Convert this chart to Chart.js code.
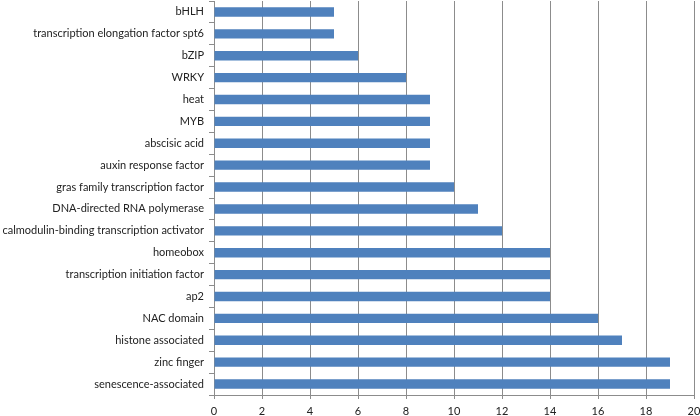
<!DOCTYPE html>
<html>
<head>
<meta charset="utf-8">
<script src="https://cdn.jsdelivr.net/npm/chart.js@4"></script>
<style>
  html, body { margin: 0; padding: 0; background: #fff; }
  #wrap { width: 700px; height: 416px; }
</style>
</head>
<body>
<div id="wrap"><canvas id="bars"></canvas></div>
<script>
const categories = [
  "bHLH",
  "transcription elongation factor spt6",
  "bZIP",
  "WRKY",
  "heat",
  "MYB",
  "abscisic acid",
  "auxin response factor",
  "gras family transcription factor",
  "DNA-directed RNA polymerase",
  "calmodulin-binding transcription activator",
  "homeobox",
  "transcription initiation factor",
  "ap2",
  "NAC domain",
  "histone associated",
  "zinc finger",
  "senescence-associated"
];
const counts = [5, 5, 6, 8, 9, 9, 9, 9, 10, 11, 12, 14, 14, 14, 16, 17, 19, 19];
const xMin = 0, xMax = 20, xStep = 2;

const font = { family: "Lato, 'Liberation Sans', sans-serif", size: 11 };

new Chart(document.getElementById('bars'), {
  type: 'bar',
  data: {
    labels: categories,
    datasets: [{
      data: counts,
      backgroundColor: '#4f81bd',
      borderWidth: 0,
      barPercentage: 0.43,
      categoryPercentage: 1
    }]
  },
  options: {
    indexAxis: 'y',
    responsive: true,
    maintainAspectRatio: false,
    animation: false,
    layout: { padding: { top: 1, right: 6, left: 0, bottom: 0 } },
    plugins: { legend: { display: false }, tooltip: { enabled: false } },
    scales: {
      x: {
        position: 'bottom',
        min: xMin,
        max: xMax,
        ticks: { stepSize: xStep, color: '#222', font: font, padding: 6, maxRotation: 0 },
        grid: { color: '#8c8c8c', lineWidth: 1, drawTicks: true, tickLength: 4, tickColor: '#8c8c8c' },
        border: { color: '#8c8c8c' },
        afterFit(s) { s.height = 21; s.paddingLeft = 0; s.paddingRight = 0; }
      },
      y: {
        ticks: { color: '#222', font: font, padding: 5, autoSkip: false },
        grid: { offset: true, drawOnChartArea: false, drawTicks: true, tickLength: 5, color: '#8c8c8c' },
        border: { color: '#8c8c8c' },
        afterFit(s) { s.width = 214; s.paddingTop = 0; s.paddingBottom = 0; }
      }
    }
  }
});
</script>
</body>
</html>
